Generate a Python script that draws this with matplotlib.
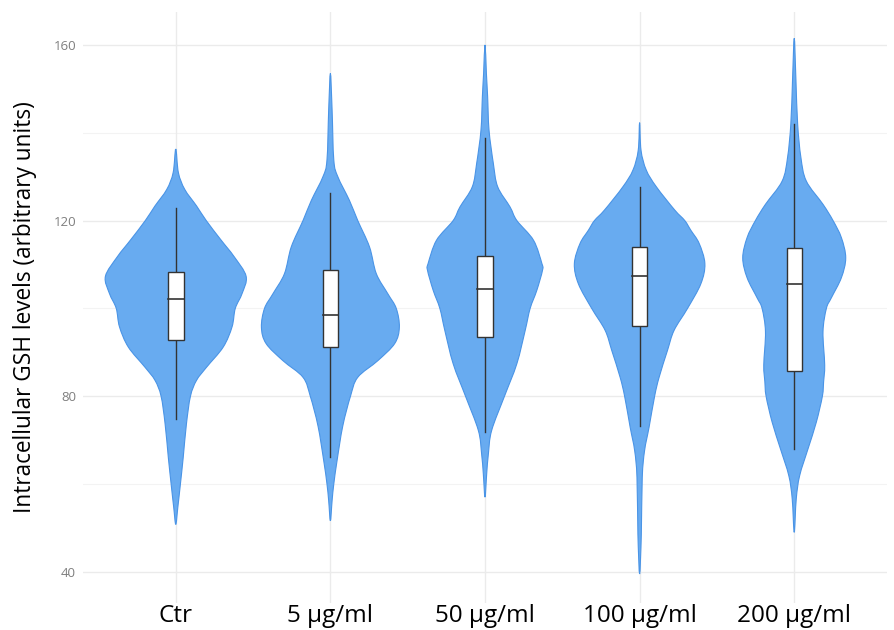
import matplotlib
matplotlib.use("Agg")
import matplotlib.pyplot as plt
from matplotlib.path import Path
from matplotlib.patches import PathPatch
import numpy as np

plt.rcParams['font.family'] = ['Open Sans', 'DejaVu Sans']

categories = ["Ctr", "5 µg/ml", "50 µg/ml", "100 µg/ml", "200 µg/ml"]

# Violin outlines: GSH level and half-width (in category units)
ctr_y  = [136.3, 130.9, 127.1, 123.3, 120.0, 115.6, 111.8, 107.3, 103.4, 100.0, 95.8, 91.2, 86.6, 83.6, 80.0, 73.7, 66.0, 60.0, 54.6, 50.8]
ctr_w  = [0.0, 0.017, 0.058, 0.135, 0.197, 0.292, 0.377, 0.455, 0.429, 0.385, 0.364, 0.307, 0.199, 0.134, 0.095, 0.069, 0.048, 0.030, 0.013, 0.0]

d5_y   = [153.5, 145.2, 133.8, 130.0, 124.6, 120.0, 114.0, 107.9, 103.3, 100.0, 95.7, 92.0, 88.1, 84.3, 80.0, 73.2, 65.3, 60.0, 56.2, 51.6]
d5_w   = [0.0, 0.011, 0.022, 0.048, 0.123, 0.177, 0.253, 0.297, 0.372, 0.426, 0.446, 0.416, 0.307, 0.177, 0.130, 0.080, 0.043, 0.022, 0.011, 0.0]

d50_y  = [160.0, 153.5, 148.2, 140.6, 133.0, 127.7, 123.1, 120.0, 115.5, 110.2, 108.7, 104.1, 100.0, 95.0, 87.4, 80.0, 72.2, 66.9, 62.4, 57.0]
d50_w  = [0.0, 0.009, 0.017, 0.026, 0.054, 0.082, 0.162, 0.206, 0.314, 0.368, 0.372, 0.335, 0.292, 0.260, 0.206, 0.126, 0.043, 0.022, 0.011, 0.0]

d100_y = [142.3, 136.0, 131.5, 127.7, 122.4, 120.0, 117.8, 114.8, 110.2, 105.6, 100.0, 95.0, 90.4, 84.3, 80.0, 72.9, 67.6, 61.5, 48.6, 39.5]
d100_w = [0.0, 0.009, 0.043, 0.108, 0.227, 0.292, 0.331, 0.385, 0.422, 0.396, 0.310, 0.223, 0.180, 0.126, 0.097, 0.061, 0.032, 0.017, 0.011, 0.0]

d200_y = [161.5, 152.0, 142.0, 134.4, 129.0, 123.7, 120.0, 116.1, 111.5, 107.0, 102.4, 100.0, 94.7, 87.1, 83.3, 80.0, 74.1, 68.0, 61.9, 56.6, 49.0]
d200_w = [0.0, 0.011, 0.022, 0.043, 0.078, 0.186, 0.251, 0.305, 0.333, 0.305, 0.240, 0.208, 0.186, 0.197, 0.190, 0.182, 0.143, 0.089, 0.035, 0.013, 0.0]

# Box plot statistics: lower whisker, Q1, median, Q3, upper whisker
whisk_lo = [74.8, 66.1, 71.9, 73.3, 68.0]
q1       = [92.8, 91.3, 93.5, 96.1, 85.7]
medians  = [102.1, 98.6, 104.5, 107.4, 105.6]
q3       = [108.2, 108.7, 112.0, 114.0, 113.8]
whisk_hi = [122.9, 126.3, 138.7, 127.7, 142.0]

violins = [(ctr_y, ctr_w), (d5_y, d5_w), (d50_y, d50_w), (d100_y, d100_w), (d200_y, d200_w)]


def smooth_outline(x0, ys, ws):
    """Closed outline through the read points, drawn as cubic Bezier segments."""
    ys = np.asarray(ys, float)
    ws = np.asarray(ws, float)
    right = np.column_stack([x0 + ws, ys])               # top -> bottom
    left = np.column_stack([x0 - ws, ys])[::-1][1:-1]    # bottom -> top, skip tips
    pts = np.vstack([right, left])
    n = len(pts)
    verts = [pts[0]]
    codes = [Path.MOVETO]
    for i in range(n):
        p0 = pts[(i - 1) % n]
        p1 = pts[i]
        p2 = pts[(i + 1) % n]
        p3 = pts[(i + 2) % n]
        c1 = p1 + (p2 - p0) / 6.0
        c2 = p2 - (p3 - p1) / 6.0
        verts += [c1, c2, p2]
        codes += [Path.CURVE4] * 3
    return Path(np.array(verts), codes)


fig = plt.figure(figsize=(8.94, 6.3), dpi=100)
ax = fig.add_axes([83/894, 1-603/630, (887-83)/894, (603-12)/630])

ax.set_xlim(0.4, 5.6)
ax.set_ylim(32.9, 167.5)

# grid
for v in [40, 80, 120, 160]:
    ax.axhline(v, color='#ebebeb', lw=1.0, zorder=0)
for v in [60, 100, 140]:
    ax.axhline(v, color='#f3f3f3', lw=0.8, zorder=0)
for i in range(len(categories)):
    ax.axvline(i + 1, color='#ebebeb', lw=1.0, zorder=0)

for i, (ys, ws) in enumerate(violins):
    x0 = i + 1
    path = smooth_outline(x0, ys, ws)
    ax.add_patch(PathPatch(path, facecolor='#68abf0', edgecolor='#4a94e6', lw=0.8, zorder=2))
    # whiskers
    ax.plot([x0, x0], [whisk_lo[i], q1[i]], color='#333333', lw=1.0, zorder=3)
    ax.plot([x0, x0], [q3[i], whisk_hi[i]], color='#333333', lw=1.0, zorder=3)
    bw = 0.05
    ax.add_patch(plt.Rectangle((x0 - bw, q1[i]), 2 * bw, q3[i] - q1[i], facecolor='white',
                               edgecolor='#333333', lw=1.0, zorder=4))
    ax.plot([x0 - bw, x0 + bw], [medians[i], medians[i]], color='#333333', lw=1.2, zorder=5)

for s in ax.spines.values():
    s.set_visible(False)

ax.set_xticks(range(1, len(categories) + 1))
ax.set_xticklabels(categories, fontsize=17.5, color='black')
ax.set_yticks([40, 80, 120, 160])
ax.set_yticklabels(['40', '80', '120', '160'], fontsize=9.5, color='#7f7f7f')
ax.tick_params(axis='both', length=0)
ax.tick_params(axis='y', pad=5)
ax.tick_params(axis='x', pad=1)
ax.set_ylabel('Intracellular GSH levels (arbitrary units)', fontsize=16.3, color='black', labelpad=12)

fig.savefig('out.png', dpi=100)
